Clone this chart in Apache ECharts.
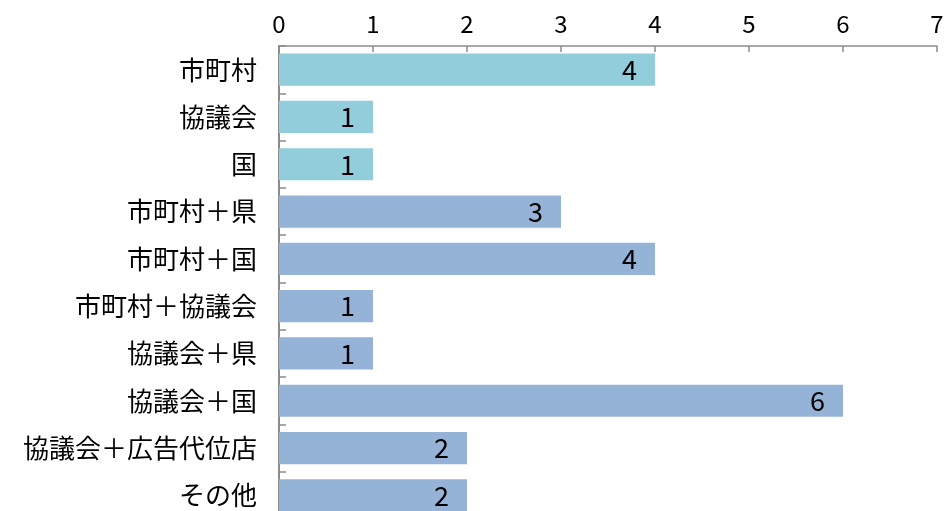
<!DOCTYPE html>
<html><head><meta charset="utf-8">
<script src="https://cdn.jsdelivr.net/npm/echarts@6/dist/echarts.min.js"></script>
<style>html,body{margin:0;padding:0;background:#fff}#c{width:946px;height:511px}</style>
</head><body><div id="c"></div>
<script>
const categories = ["市町村","協議会","国","市町村＋県","市町村＋国","市町村＋協議会","協議会＋県","協議会＋国","協議会＋広告代位店","その他"];
const values = [4,1,1,3,4,1,1,6,2,2];
const groupA = 3; // first three bars in lighter colour
const colorA = "#92CDDC", colorB = "#95B3D7";
const font = "'Noto Sans CJK JP', sans-serif";
const chart = echarts.init(document.getElementById('c'));
chart.setOption({
  animation:false,
  grid:{left:279,width:658,top:46,height:473,containLabel:false,outerBoundsMode:'none'},
  xAxis:{type:'value',position:'top',min:0,max:7,interval:1,
    axisLine:{show:true,lineStyle:{color:'#8c8c8c',width:1.5}},
    axisTick:{show:true,inside:true,length:6,lineStyle:{color:'#8c8c8c',width:1.5}},
    splitLine:{show:false},
    axisLabel:{color:'#000',fontSize:24,fontFamily:font,margin:10}},
  yAxis:{type:'category',inverse:true,data:categories,
    axisLine:{show:true,lineStyle:{color:'#8c8c8c',width:2}},
    axisTick:{show:true,inside:true,length:7,lineStyle:{color:'#8c8c8c',width:1.5}},
    axisLabel:{color:'#000',fontSize:26,fontFamily:font,margin:22}},
  series:[{type:'bar',barCategoryGap:'32%',
    data:values.map((v,i)=>({value:v,itemStyle:{color:i<groupA?colorA:colorB}})),
    label:{show:true,position:'insideRight',distance:18,color:'#000',fontSize:27,fontFamily:font}}]
});
</script></body></html>
